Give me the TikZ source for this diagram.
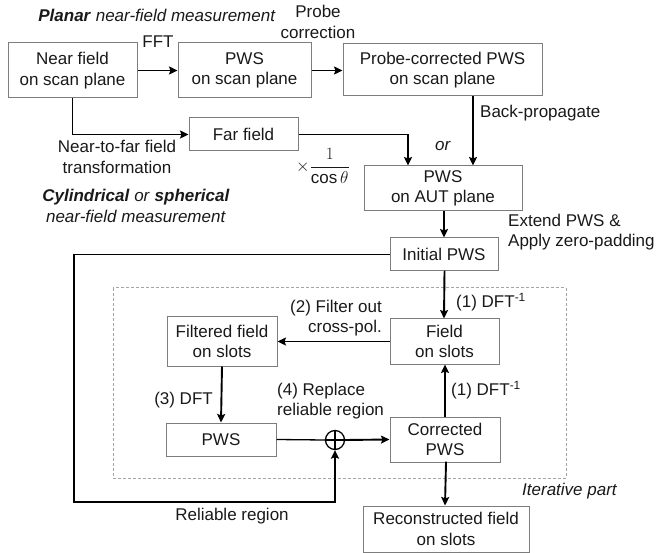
\documentclass[tikz,border=0pt]{standalone}
\usepackage{fontspec}
\setmainfont{Liberation Sans}
\usetikzlibrary{arrows.meta,calc}
\definecolor{boxgray}{RGB}{125,125,125}
\definecolor{dashgray}{RGB}{165,165,165}
\definecolor{txt}{RGB}{25,25,25}
\begin{document}
\begin{tikzpicture}[x=1pt,y=-1pt,
  every node/.style={font=\fontsize{17}{20.5}\selectfont,text=txt},
  box/.style={draw=boxgray,line width=1pt,align=center,inner sep=0pt},
  lbl/.style={inner sep=0pt,align=center},
  conn/.style={line width=1.9pt,-{Stealth[length=8.5pt,width=8pt,inset=1.5pt]}},
  plain/.style={line width=1.9pt}]
\useasboundingbox (0,0) rectangle (656,553);

% dashed iterative region
\draw[dashgray,line width=1pt,dash pattern=on 3pt off 2pt] (113,288) rectangle (566,478);

% boxes
\node[box,minimum width=129pt,minimum height=55pt] (nf) at (72.5,70.5) {Near field\\on scan plane};
\node[box,minimum width=133pt,minimum height=55pt] (pws1) at (244.5,70.5) {PWS\\on scan plane};
\node[box,minimum width=199pt,minimum height=52pt] (pcp) at (442.5,70) {Probe-corrected PWS\\on scan plane};
\node[box,minimum width=109pt,minimum height=33pt] (ff) at (243.5,134.5) {Far field};
\node[box,minimum width=158pt,minimum height=45pt] (aut) at (443,188.5) {PWS\\on AUT plane};
\node[box,minimum width=108pt,minimum height=33pt] (init) at (444,254.5) {Initial PWS};
\node[box,minimum width=109pt,minimum height=45pt] (fos) at (444.5,341.5) {Field\\on slots};
\node[box,minimum width=110pt,minimum height=49pt] (filt) at (222,341.5) {Filtered field\\on slots};
\node[box,minimum width=110pt,minimum height=33pt] (pws2) at (221,439.5) {PWS};
\node[box,minimum width=110pt,minimum height=45pt] (cpws) at (445,439.5) {Corrected\\PWS};
\node[box,minimum width=166pt,minimum height=46pt] (rec) at (446,529) {Reconstructed field\\on slots};
\node[draw=black,line width=1.3pt,circle,minimum size=19pt,inner sep=0pt] (sum) at (335,440) {};
\draw[line width=1.3pt] (sum.north) -- (sum.south) (sum.west) -- (sum.east);

% connectors
\draw[conn] (nf.east |- 0,70.5) -- (pws1.west |- 0,70.5);
\draw[conn] (pws1.east |- 0,70.5) -- (pcp.west |- 0,70.5);
\draw[conn] (nf.south) |- (ff.west);
\draw[conn] (ff.east) -| ([xshift=-35pt]aut.north);
\draw[conn] ([xshift=30pt]aut.north |- pcp.south) -- ([xshift=30pt]aut.north);
\draw[conn] (aut.south -| init.north) -- (init.north);
\draw[conn] (init.south) -- (init.south -| fos.north) -- (fos.north -| init.south);
\draw[conn] (fos.west) -- (filt.east);
\draw[conn] (filt.south) -- (pws2.north);
\draw[line width=1.3pt] (pws2.east) -- (sum.west);
\draw[conn] (sum.east) -- (cpws.west);
\draw[conn] (cpws.north) -- (cpws.north |- fos.south);
\draw[conn] (cpws.south) -- (cpws.south -| rec.north) -- (rec.north -| cpws.south);
\coordinate (lp) at (74,502);
\draw[conn] (init.west) -| (lp) -| (sum.south);

% labels
\node[lbl] (t1) at (157,15) {\textbf{\textit{Planar}} \textit{near-field measurement}};
\node[lbl] (t2) at (318,22) {Probe\\correction};
\node[lbl] (t3) at (158,42) {FFT};
\node[lbl] (t4) at (117,157) {Near-to-far field\\transformation};
\node[lbl] (t5) at (136,206) {\textbf{\textit{Cylindrical}} \textit{or} \textbf{\textit{spherical}}\\\textit{near-field measurement}};
\node[lbl] (t6) at (323,166) {$\displaystyle\times\frac{1}{\cos\theta}$};
\node[lbl] (t7) at (443,146) {\textit{or}};
\node[lbl,anchor=west] (t8) at (480,113) {Back-propagate};
\node[lbl,anchor=west,align=left] (t9) at (508,232) {Extend PWS \&\\Apply zero-padding};
\node[lbl,anchor=west] (t10) at (456,302) {(1) DFT\textsuperscript{-1}};
\node[lbl,anchor=west] (t11) at (451,390) {(1) DFT\textsuperscript{-1}};
\node[lbl,anchor=east,align=right] (t12) at (382,318) {(2) Filter out\\cross-pol.};
\node[lbl,anchor=east] (t13) at (213,400) {(3) DFT};
\node[lbl,anchor=west,align=left] (t14) at (277,401) {(4) Replace\\reliable region};
\node[lbl,anchor=west] (t15) at (522,491) {\textit{Iterative part}};
\node[lbl] (t16) at (232,516) {Reliable region};
\end{tikzpicture}
\end{document}
